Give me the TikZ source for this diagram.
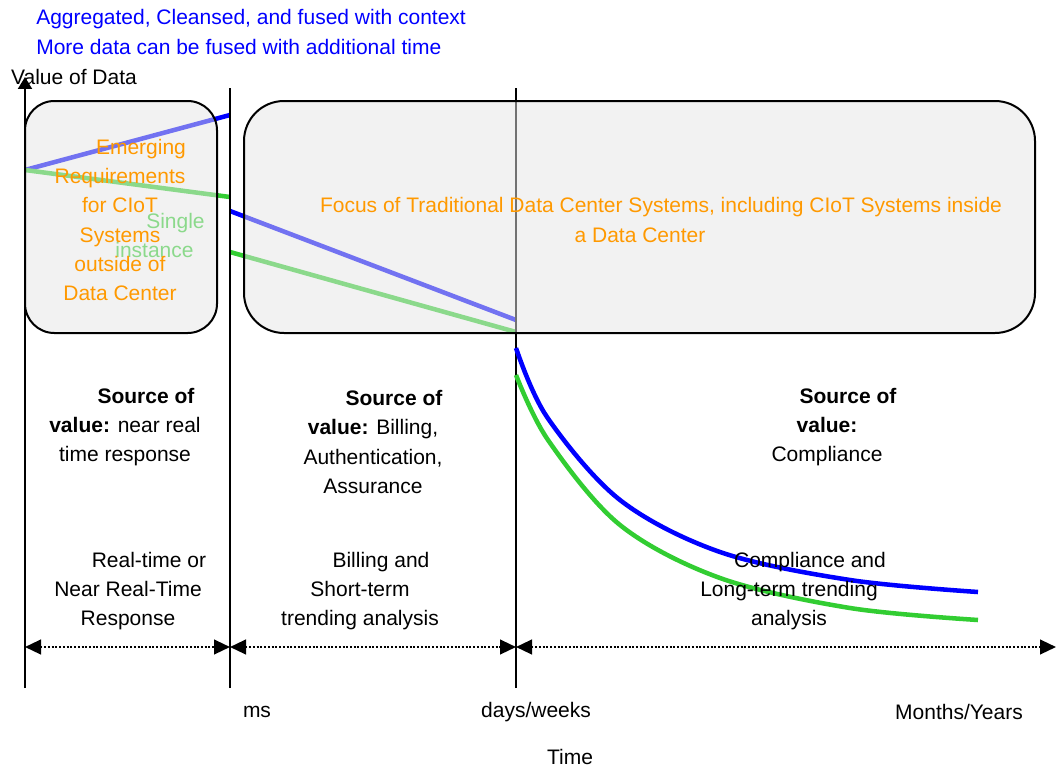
\documentclass[tikz,border=0pt]{standalone}
\usepackage{fontspec}
\setmainfont{Liberation Sans}
\usetikzlibrary{positioning, arrows.meta}
\definecolor{dataorange}{RGB}{255,153,0}
\definecolor{datagreen}{RGB}{50,205,50}
\newcommand{\firstpad}{\hspace*{2em}}

\begin{document}
\begin{tikzpicture}[x=0.75pt, y=-0.75pt,
    every node/.style={font=\fontsize{15.75}{22}\selectfont, inner sep=0pt},
    txt/.style={align=center},
    valueline/.style={line width=3.4pt},
    zonebox/.style={draw=black, line width=1.5pt, fill=black!10, fill opacity=0.5, draw opacity=1},
    divider/.style={line width=1.5pt},
    span/.style={line width=1.7pt, dash pattern=on 1.5pt off 1.3pt,
        {Triangle[length=12pt,width=11pt]}-{Triangle[length=12pt,width=11pt]}}
]
    \useasboundingbox (0,0) rectangle (1056,767);

    % ticks on the time axis
    \coordinate (origin) at (25,688);
    \coordinate (ytop) at (25,77);
    \coordinate (msbot) at (230,688);
    \coordinate (mstop) at (230,88);
    \coordinate (daybot) at (516,688);
    \coordinate (daytop) at (516,88);
    \coordinate (s0) at (25,647);
    \coordinate (s1) at (230,647);
    \coordinate (s2) at (516,647);
    \coordinate (s3) at (1056,647);

    % value lines
    \draw[valueline, blue] (25,170) -- (230,115);
    \draw[valueline, datagreen] (25,170) -- (230,197);
    \draw[valueline, blue] (230,211) -- (516,320);
    \draw[valueline, datagreen] (230,252) -- (516,332);
    \node (single) [txt, text=datagreen] at (154.5,235.5) {\firstpad Single\\instance};

    % dividers
    \draw[divider] (msbot) -- (mstop);
    \draw[divider] (daybot) -- (daytop);

    % zones
    \draw[zonebox, rounded corners=22pt] (25,101) rectangle (217,333);
    \draw[zonebox, rounded corners=30pt] (244,101) rectangle (1035,333);

    \node (edge) [txt, text=dataorange] at (120,220)
        {\firstpad Emerging\\Requirements\\for CIoT\\Systems\\outside of\\Data Center};
    \node (focus) [txt, text=dataorange] at (640,220)
        {\firstpad Focus of Traditional Data Center Systems, including CIoT Systems inside\\a Data Center};

    % axis
    \node (vod) at (74,77) {Value of Data};
    \draw[divider, -{Triangle[length=9pt,width=10.5pt]}] (origin) -- (ytop);

    % decay curves
    \draw[valueline, datagreen] plot[smooth, tension=0.55] coordinates
        {(516,375) (548,440) (620,525) (720,578) (850,608) (978,620)};
    \draw[valueline, blue] plot[smooth, tension=0.55] coordinates
        {(516,348) (547,417) (620,500) (720,552) (850,580) (978,592)};

    % source of value
    \node (srcrt) [txt] at (125,427) {\firstpad\textbf{Source of}\\\textbf{value:} near real\\time response};
    \node (srcbill) [txt] at (373,442) {\firstpad\textbf{Source of}\\\textbf{value:} Billing,\\Authentication,\\Assurance};
    \node (srccomp) [txt] at (827,427) {\firstpad\textbf{Source of}\\\textbf{value:}\\Compliance};

    % uses
    \node (usert) [txt] at (128,591) {\firstpad Real-time or\\Near Real-Time\\Response};
    \node (usebill) [txt] at (360,591) {\firstpad Billing and\\Short-term\\trending analysis};
    \node (usecomp) [txt] at (789,591) {\firstpad Compliance and\\Long-term trending\\analysis};

    % spans
    \draw[span] (s0) -- (s1);
    \draw[span] (s1) -- (s2);
    \draw[span] (s2) -- (s3);

    % time labels
    \node (ms) at (257,712) {ms};
    \node (days) at (536,712) {days/weeks};
    \node (months) at (959,712) {Months/Years};
    \node (time) at (570,757) {Time};

    % notes
    \node (agg) [anchor=west, text=blue] at (36,19) {Aggregated, Cleansed, and fused with context};
    \node (more) [anchor=west, text=blue] at (36,47) {More data can be fused with additional time};
\end{tikzpicture}
\end{document}
